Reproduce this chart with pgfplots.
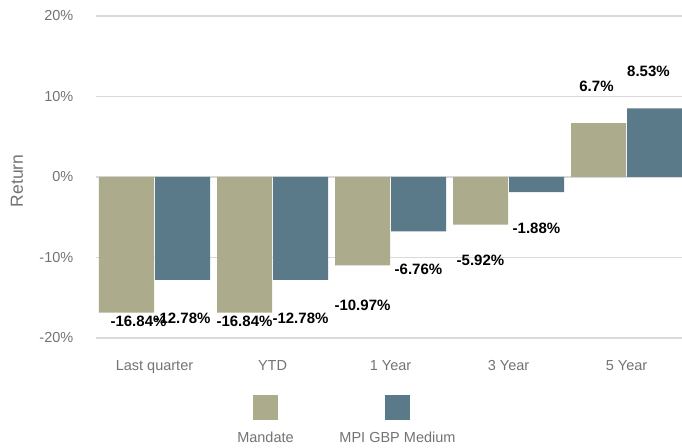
\documentclass[border=0pt]{standalone}
\usepackage{pgfplots}
\usepackage{pgfplotstable}
\usepackage{fontspec}
\setmainfont{Liberation Sans}
\pgfplotsset{compat=1.18}
\definecolor{mandate}{RGB}{172,171,139}
\definecolor{mpi}{RGB}{90,121,137}
\definecolor{ticktext}{RGB}{115,115,115}
\definecolor{gridc}{RGB}{217,217,217}
\pgfplotstableread{
x val ly lx
0 -16.84 -17.89 -16
1 -16.84 -17.89 -28
2 -10.97 -15.90 -28
3 -5.92 -10.40 -28
4 6.7 11.30 -30
}\mandatetab
\pgfplotstableread{
x val ly lx
0 -12.78 -17.52 28
1 -12.78 -17.52 28
2 -6.76 -11.43 28
3 -1.88 -6.42 28
4 8.53 13.17 22
}\mpitab
\begin{document}
\begin{tikzpicture}
\path[use as bounding box] (0,0) rectangle (682bp,448bp);
\begin{axis}[
  at={(95.5bp,110bp)}, anchor=south west,
  scale only axis, width=590bp, height=322bp,
  xmin=-0.5, xmax=4.5, ymin=-20, ymax=20,
  enlargelimits=false,
  axis line style={draw=none},
  major tick length=0pt,
  xtick={0,1,2,3,4},
  xticklabels={Last quarter,YTD,1 Year,3 Year,5 Year},
  ytick={-20,-10,0,10,20},
  /pgf/number format/assume math mode=true,
  yticklabel={\pgfmathprintnumber{\tick}\%},
  ymajorgrids,
  grid style={gridc, line width=1.5bp},
  tick label style={font=\fontsize{14.5bp}{17bp}\selectfont, text=ticktext},
  yticklabel style={anchor=east, inner sep=0pt, xshift=-22bp},
  xticklabel style={anchor=north, inner sep=0pt, yshift=-22bp},
  ylabel={Return},
  ylabel style={at={(axis description cs:-0.133,0.488)}, anchor=center, font=\fontsize{17.5bp}{20bp}\selectfont, text=ticktext},
  clip=false,
]
\addplot[ybar, bar width=55bp, bar shift=-28bp, fill=mandate, draw=none] table[x=x, y=val]{\mandatetab};
\addplot[ybar, bar width=55bp, bar shift=28bp, fill=mpi, draw=none] table[x=x, y=val]{\mpitab};
\addplot[draw=none, mark=none, forget plot,
  point meta=\thisrow{val},
  visualization depends on={\thisrow{lx} \as \lxoff},
  nodes near coords={\pgfmathprintnumber[fixed,precision=2,assume math mode=true]{\pgfplotspointmeta}\%},
  nodes near coords style={anchor=center, xshift=\lxoff*1bp, inner sep=0pt, font=\fontsize{15bp}{17bp}\selectfont\bfseries, text=black}]
  table[x=x, y=ly]{\mandatetab};
\addplot[draw=none, mark=none, forget plot,
  point meta=\thisrow{val},
  visualization depends on={\thisrow{lx} \as \lxoff},
  nodes near coords={\pgfmathprintnumber[fixed,precision=2,assume math mode=true]{\pgfplotspointmeta}\%},
  nodes near coords style={anchor=center, xshift=\lxoff*1bp, inner sep=0pt, font=\fontsize{15bp}{17bp}\selectfont\bfseries, text=black}]
  table[x=x, y=ly]{\mpitab};
\end{axis}
% legend
\fill[mandate] (253bp,28bp) rectangle (278bp,53bp);
\fill[mpi] (385bp,28bp) rectangle (410bp,53bp);
\node[anchor=center, inner sep=0pt, text=ticktext, font=\fontsize{14.5bp}{17bp}\selectfont] at (265.5bp,10.5bp) {Mandate};
\node[anchor=center, inner sep=0pt, text=ticktext, font=\fontsize{14.5bp}{17bp}\selectfont] at (397.5bp,10.5bp) {MPI GBP Medium};
\end{tikzpicture}
\end{document}
